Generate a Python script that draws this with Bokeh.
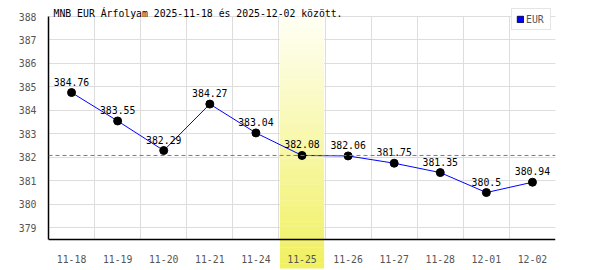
from bokeh.plotting import figure
from bokeh.models import (ColumnDataSource, FixedTicker, Span, BoxAnnotation, Label,
                          Legend, LegendItem, Range1d)
from bokeh.core.properties import value
from bokeh.embed import file_html
from bokeh.resources import INLINE

dates = ["11-18", "11-19", "11-20", "11-21", "11-24", "11-25",
         "11-26", "11-27", "11-28", "12-01", "12-02"]
rates = [384.76, 383.55, 382.29, 384.27, 383.04, 382.08,
         382.06, 381.75, 381.35, 380.5, 380.94]
rate_labels = ["384.76", "383.55", "382.29", "384.27", "383.04", "382.08",
               "382.06", "381.75", "381.35", "380.5", "380.94"]
y_ticks = [379, 380, 381, 382, 383, 384, 385, 386, 387, 388]
highlight_index = 5
reference_rate = 382.08
title_text = "MNB EUR Árfolyam 2025-11-18 és 2025-12-02 között."
series_name = "EUR"

FONT = "DejaVu Sans Mono"

# vertical geometry: 388 at 16px, axis (378.5) at 239px, canvas 270px
y_min_axis, y_max_axis = 378.5, 388.0
ppu = (239 - 16) / (y_max_axis - y_min_axis)
y_lo = y_min_axis - (270 - 239) / ppu
y_hi = y_max_axis + 16 / ppu
band_bottom = y_min_axis - (268 - 239) / ppu

xs = [i + 0.5 for i in range(len(dates))]
src = ColumnDataSource(dict(x=xs, y=rates, lab=rate_labels))

p = figure(width=600, height=270, output_backend="svg", toolbar_location=None,
           x_range=Range1d(0, len(dates)), y_range=Range1d(y_lo, y_hi),
           min_border_left=48, min_border_right=45, min_border_top=0,
           min_border_bottom=0)
p.background_fill_color = "white"
p.border_fill_color = "white"
p.outline_line_color = None

# white masks outside the grid area
eps = 0.6 / ppu
p.add_layout(BoxAnnotation(bottom=y_max_axis + eps, fill_color="white", fill_alpha=1,
                           line_color=None, level="underlay"))
p.add_layout(BoxAnnotation(top=y_min_axis - eps, fill_color="white", fill_alpha=1,
                           line_color=None, level="underlay"))

# gradient highlight band
n = 48
for k in range(n):
    t = (k + 0.5) / n
    r = int(round(255 + (240 - 255) * t))
    g = int(round(255 + (240 - 255) * t))
    b = int(round(245 + (96 - 245) * t))
    top = y_max_axis - (y_max_axis - band_bottom) * k / n
    bot = y_max_axis - (y_max_axis - band_bottom) * (k + 1) / n - 0.01
    p.add_layout(BoxAnnotation(left=highlight_index + 0.02, right=highlight_index + 0.98,
                               top=top, bottom=max(bot, band_bottom),
                               fill_color="#%02x%02x%02x" % (r, g, b), fill_alpha=1,
                               line_color=None, level="underlay"))

p.add_layout(Span(location=reference_rate, dimension="width", line_color="#6a6aff",
                  line_dash="4 3", line_width=1))

p.line("x", "y", source=src, line_color="blue", line_width=1)
p.scatter("x", "y", source=src, size=8, fill_color="black", line_color="black")
p.text("x", "y", text="lab", source=src, text_align="center", text_baseline="bottom",
       y_offset=-7, text_font=value(FONT), text_font_size="9.8px", text_color="black")

# axes
p.xaxis.ticker = FixedTicker(ticks=xs)
p.xaxis.major_label_overrides = {x: d for x, d in zip(xs, dates)}
p.xaxis.fixed_location = y_min_axis
p.yaxis.ticker = FixedTicker(ticks=y_ticks)
p.yaxis.bounds = (y_min_axis, y_max_axis)
for ax in (p.xaxis, p.yaxis):
    ax.axis_line_color = "black"
    ax.axis_line_width = 1.5
    ax.major_tick_line_color = None
    ax.minor_tick_line_color = None
    ax.major_label_text_font = FONT
    ax.major_label_text_font_size = "9.8px"
    ax.major_label_text_color = "#555555"
p.xaxis.major_label_standoff = 9
p.yaxis.major_label_standoff = 6

p.xgrid.ticker = FixedTicker(ticks=list(range(1, len(dates) + 1)))
p.ygrid.ticker = FixedTicker(ticks=y_ticks)
p.xgrid.grid_line_color = "#dddddd"
p.ygrid.grid_line_color = "#dddddd"

p.add_layout(Label(x=5, y=257, x_units="screen", y_units="screen", text=title_text,
                   text_font=FONT, text_font_size="9.8px", text_color="black",
                   text_baseline="alphabetic"))

# legend proxy glyph (kept outside the visible range)
proxy = p.quad(left=[-101], right=[-100], bottom=[-101], top=[-100],
               fill_color="blue", line_color="#000060", line_width=1)
legend = Legend(items=[LegendItem(label=series_name, renderers=[proxy])],
                location=(463, 240), border_line_color="#cccccc",
                background_fill_color="white", background_fill_alpha=1,
                padding=4, margin=0, spacing=0, label_standoff=2,
                glyph_width=8, glyph_height=8, label_height=12,
                label_text_font=FONT, label_text_font_size="9.8px",
                label_text_color="#555555")
p.add_layout(legend)

open("out.html", "w").write(file_html(p, INLINE))
